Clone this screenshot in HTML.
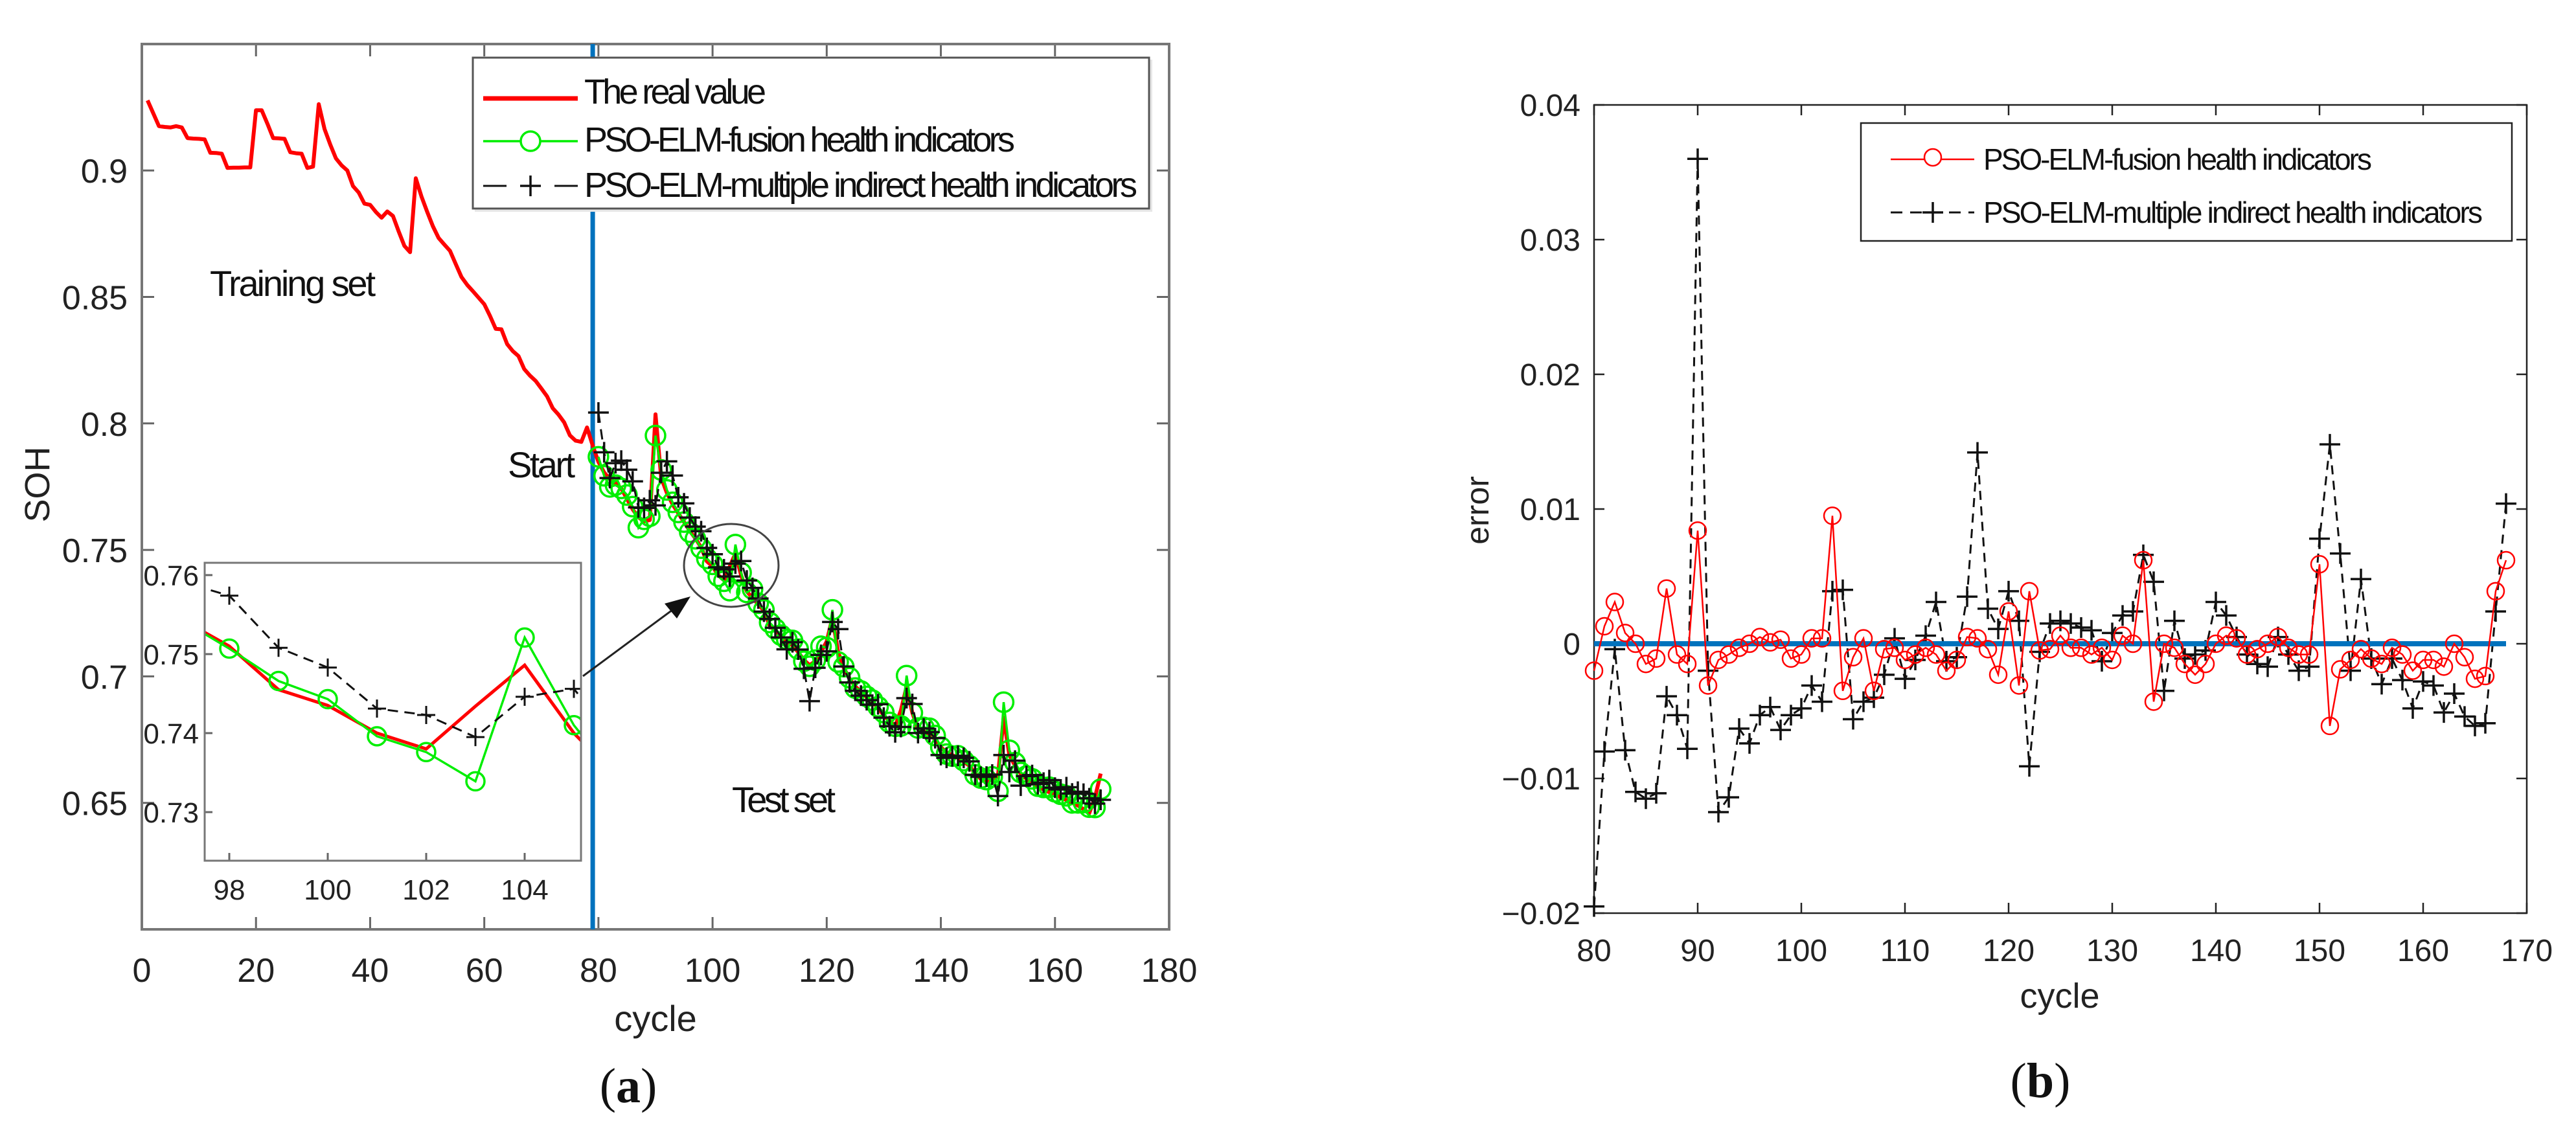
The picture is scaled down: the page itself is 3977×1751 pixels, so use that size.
<!DOCTYPE html>
<html><head><meta charset="utf-8"><style>
html,body{margin:0;padding:0;background:#fff;width:3977px;height:1751px;overflow:hidden;}
svg{display:block;font-family:"Liberation Sans",Arial,sans-serif;}
</style></head><body>
<svg id="fig" width="3977" height="1751" viewBox="0 0 3977 1751" xmlns="http://www.w3.org/2000/svg">
<defs>
<clipPath id="clipA"><rect x="219" y="68" width="1586" height="1367"/></clipPath>
<clipPath id="clipI"><rect x="316" y="869" width="581" height="460"/></clipPath>
</defs>
<g id="chartA"></g>
<g id="chartB"></g>
</svg>
<script>
// ---------- data ----------
const trainCycles = [1,2,3,4,5,6,7,8,9,10,11,12,13,14,15,16,17,18,19,20,21,22,23,24,25,26,27,28,29,30,31,32,33,34,35,36,37,38,39,40,41,42,43,44,45,46,47,48,49,50,51,52,53,54,55,56,57,58,59,60,61,62,63,64,65,66,67,68,69,70,71,72,73,74,75,76,77,78,79];
const trainReal = [.9277,.9226,.9175,.9172,.917,.9175,.917,.9128,.9126,.9125,.9123,.907,.9069,.9066,.901,.9011,.9011,.9012,.9012,.9238,.9238,.9185,.9128,.9127,.9125,.9072,.9068,.9066,.901,.9015,.9262,.9164,.9103,.9048,.902,.90,.8938,.8913,.8869,.8864,.8836,.8813,.8838,.882,.8759,.8702,.8677,.8969,.8897,.8836,.8779,.8733,.8707,.8682,.863,.8579,.8548,.8523,.8497,.8471,.8425,.8374,.8372,.8314,.8286,.8266,.8215,.8189,.8168,.8138,.8107,.806,.8035,.8004,.7953,.7932,.7927,.7984,.7912];
const testCycles = [80,81,82,83,84,85,86,87,88,89,90,91,92,93,94,95,96,97,98,99,100,101,102,103,104,105,106,107,108,109,110,111,112,113,114,115,116,117,118,119,120,121,122,123,124,125,126,127,128,129,130,131,132,133,134,135,136,137,138,139,140,141,142,143,144,145,146,147,148,149,150,151,152,153,154,155,156,157,158,159,160,161,162,163,164,165,166,167,168];
const testReal = [.7848,.7806,.778,.7764,.7743,.7702,.766,.7629,.7613,.7618,.8036,.7785,.7725,.768,.7645,.761,.7575,.7545,.751,.7455,.7435,.740,.738,.7434,.7486,.740,.7336,.731,.7285,.726,.7201,.718,.716,.7138,.7122,.7096,.7065,.7044,.706,.7096,.7138,.7232,.7096,.7033,.6991,.696,.6939,.6918,.6898,.6877,.6845,.6824,.6803,.6866,.696,.6856,.6793,.6783,.6772,.6751,.672,.6699,.6689,.6678,.6663,.6647,.6616,.6595,.6584,.6595,.6605,.6837,.6689,.6647,.6616,.6595,.658,.6563,.6553,.6542,.6532,.6522,.6511,.650,.649,.6475,.6459,.6521,.6616];
const errFusion = [-.002,.0013,.0031,.0008,0,-.0015,-.0011,.0041,-.0008,-.0015,.0084,-.0031,-.0012,-.0008,-.0003,0,.0005,.0001,.0003,-.0011,-.0008,.0004,.0004,.0095,-.0035,-.001,.0004,-.0035,-.0004,-.0003,-.0012,-.0008,-.0003,-.0008,-.002,-.0012,.0005,.0004,-.0004,-.0023,.0024,-.0031,.0039,-.0005,-.0004,.0006,-.0003,-.0003,-.0008,-.0003,-.0012,.0006,0,.0062,-.0043,0,-.0003,-.0015,-.0023,-.0015,0,.0006,.0004,-.0008,-.0004,0,.0005,-.0003,-.0008,-.0008,.0059,-.0061,-.0019,-.0012,-.0004,-.0011,-.0015,-.0003,-.0008,-.002,-.0012,-.0012,-.0017,0,-.001,-.0026,-.0024,.0039,.0062];
const errMultiple = [-.0195,-.008,-.0004,-.0079,-.011,-.0115,-.0111,-.0039,-.0053,-.0078,.036,-.002,-.0125,-.0114,-.0063,-.0074,-.0053,-.0047,-.0064,-.0053,-.0048,-.0031,-.0043,.0039,.004,-.0056,-.0043,-.004,-.0023,.0004,-.0026,-.0012,.0006,.0031,-.0013,-.001,.0035,.0142,.0026,.0011,.0039,.0017,-.0091,-.0006,.0015,.0017,.0015,.0012,.001,-.0013,.0008,.0021,.0024,.0066,.0046,-.0035,.0017,-.0011,-.0008,-.0005,.0031,.0021,.0005,-.0008,-.0015,-.0017,.0005,-.0008,-.002,-.0017,.0078,.0148,.0067,-.002,.0048,-.0011,-.003,-.0011,-.0027,-.0048,-.0028,-.0031,-.0051,-.0037,-.0054,-.0061,-.0059,.0024,.0104];
const xTicksA = [0,20,40,60,80,100,120,140,160,180];
const yTicksA = [0.65,0.7,0.75,0.8,0.85,0.9];
const yTickLabelsA = ["0.65","0.7","0.75","0.8","0.85","0.9"];
const xTicksI = [98,100,102,104];
const yTicksI = [0.73,0.74,0.75,0.76];
const xTicksB = [80,90,100,110,120,130,140,150,160,170];
const yTicksB = [-0.02,-0.01,0,0.01,0.02,0.03,0.04];
const yTickLabelsB = ["\u22120.02","\u22120.01","0","0.01","0.02","0.03","0.04"];
const startCycle = 79;

// ---------- scales ----------
const XA = c => 219 + c*(1586/180);
const YA = v => 1435 - (v-0.6)*3906;
const XI = c => 354 + (c-98)*76;
const YI = v => 1254 - (v-0.73)*12200;
const XB = c => 2461 + (c-80)*16.0;
const YB = e => 994 - e*20800;

const NS = "http://www.w3.org/2000/svg";
function mk(tag, attrs, parent){const e=document.createElementNS(NS,tag);for(const k in attrs)e.setAttribute(k,attrs[k]);parent.appendChild(e);return e;}
function txt(s, attrs, parent){const e=mk("text",attrs,parent);e.textContent=s;return e;}
function pathD(xs, ys, fx, fy){return xs.map((c,i)=>(i?"L":"M")+fx(c).toFixed(1)+","+fy(ys[i]).toFixed(1)).join(" ");}
function plus(g, x, y, h, w){const p=mk("path",{d:`M${x-h},${y} H${x+h} M${x},${y-h} V${y+h}`,stroke:"#111","stroke-width":w,fill:"none"},g);return p;}

const predFusion = testReal.map((v,i)=>v-errFusion[i]);
const predMultiple = testReal.map((v,i)=>v-errMultiple[i]);
const allCycles = trainCycles.concat(testCycles);
const allReal = trainReal.concat(testReal);

// ================= Chart A =================
const A = document.getElementById("chartA");
let el;
el = mk("g",{},A);


const axA = el;
xTicksA.forEach(c=>{
  const t=mk("path",{d:`M${XA(c)},1435 v-19 M${XA(c)},68 v19`,stroke:"#666","stroke-width":3},axA);
  
  
  const l=txt(String(c),{x:XA(c),y:1516,"font-size":52,"text-anchor":"middle",fill:"#222"},axA);
  
  
});
yTicksA.forEach((v,i)=>{
  const t=mk("path",{d:`M219,${YA(v)} h19 M1805,${YA(v)} h-19`,stroke:"#666","stroke-width":3},axA);
  
  
  const l=txt(yTickLabelsA[i],{x:197,y:YA(v)+19,"font-size":52,"text-anchor":"end",fill:"#222"},axA);
  
  
});
el = mk("rect",{x:219,y:68,width:1586,height:1367,fill:"none",stroke:"#777","stroke-width":4},A);



const dA = mk("g",{"clip-path":"url(#clipA)"},A);


el = mk("line",{x1:XA(startCycle),x2:XA(startCycle),y1:68,y2:1435,stroke:"#0072BD","stroke-width":7},dA);


el = mk("path",{d:pathD(allCycles,allReal,XA,YA),stroke:"#ff0000","stroke-width":6,fill:"none","stroke-linejoin":"round"},dA);


el = mk("path",{d:pathD(testCycles,predFusion,XA,YA),stroke:"#00ee00","stroke-width":3.5,fill:"none"},dA);


testCycles.forEach((c,i)=>{
  const m=mk("circle",{cx:XA(c),cy:YA(predFusion[i]),r:15,fill:"none",stroke:"#00ee00","stroke-width":3.5},dA);
  
  
});
el = mk("path",{d:pathD(testCycles,predMultiple,XA,YA),stroke:"#111","stroke-width":3,fill:"none","stroke-dasharray":"16 10"},dA);


testCycles.forEach((c,i)=>{
  const m=plus(dA,XA(c),YA(predMultiple[i]),16,3.5);
  
  
});

el = txt("Training set",{x:324,y:457,"font-size":56,fill:"#111",textLength:256},A);


el = txt("Start",{x:784,y:737,"font-size":56,fill:"#111",textLength:104},A);


el = txt("Test set",{x:1130,y:1254,"font-size":56,fill:"#111",textLength:160},A);


el = mk("ellipse",{cx:1129,cy:873,rx:73,ry:64,fill:"none",stroke:"#444","stroke-width":3},A);


el = mk("line",{x1:900,y1:1044,x2:1050,y2:933,stroke:"#222","stroke-width":3},A);


el = mk("path",{d:"M1066,921 L1026,932 L1045,955 z",fill:"#111"},A);



// inset
const I = mk("g",{},A);


el = mk("rect",{x:316,y:869,width:581,height:460,fill:"#fff",stroke:"none"},I);


xTicksI.forEach(c=>{
  const t=mk("path",{d:`M${XI(c)},1329 v-12`,stroke:"#666","stroke-width":3},I);
  
  
  const l=txt(String(c),{x:XI(c),y:1389,"font-size":44,"text-anchor":"middle",fill:"#222"},I);
  
  
});
yTicksI.forEach(v=>{
  const t=mk("path",{d:`M316,${YI(v)} h12`,stroke:"#666","stroke-width":3},I);
  
  
  const l=txt(v.toFixed(2),{x:307,y:YI(v)+16,"font-size":44,"text-anchor":"end",fill:"#222"},I);
  
  
});
const dI = mk("g",{"clip-path":"url(#clipI)"},I);


el = mk("path",{d:pathD(testCycles,testReal,XI,YI),stroke:"#ff0000","stroke-width":5,fill:"none"},dI);


el = mk("path",{d:pathD(testCycles,predFusion,XI,YI),stroke:"#00ee00","stroke-width":3.5,fill:"none"},dI);


testCycles.forEach((c,i)=>{
  if(c<97||c>106)return;
  const m=mk("circle",{cx:XI(c),cy:YI(predFusion[i]),r:14,fill:"none",stroke:"#00ee00","stroke-width":3.5},dI);
  
  
});
el = mk("path",{d:pathD(testCycles,predMultiple,XI,YI),stroke:"#111","stroke-width":3,fill:"none","stroke-dasharray":"16 10"},dI);


testCycles.forEach((c,i)=>{
  if(c<97||c>106)return;
  const m=plus(dI,XI(c),YI(predMultiple[i]),14,3);
  
  
});
el = mk("rect",{x:316,y:869,width:581,height:460,fill:"none",stroke:"#777","stroke-width":3},I);



// legend A
const LA = mk("g",{},A);


el = mk("rect",{x:733,y:92,width:1046,height:235,fill:"#e6e6e6"},LA);


el = mk("rect",{x:730,y:89,width:1044,height:233,fill:"#fff",stroke:"#555","stroke-width":3},LA);


el = mk("line",{x1:746,x2:892,y1:152,y2:152,stroke:"#ff0000","stroke-width":7},LA);


el = txt("The real value",{x:902,y:160,"font-size":54,fill:"#111",textLength:281},LA);


el = mk("line",{x1:746,x2:892,y1:218,y2:218,stroke:"#00ee00","stroke-width":3.5},LA);


el = mk("circle",{cx:819,cy:218,r:15,fill:"#fff",stroke:"#00ee00","stroke-width":3.5},LA);


el = txt("PSO-ELM-fusion health indicators",{x:902,y:234,"font-size":54,fill:"#111",textLength:665},LA);


el = mk("path",{d:"M746,287 H782 M856,287 H892",stroke:"#111","stroke-width":3},LA);


el = plus(LA,819,287,16,3.5);


el = txt("PSO-ELM-multiple indirect health indicators",{x:902,y:304,"font-size":54,fill:"#111",textLength:854},LA);



el = txt("cycle",{x:1012,y:1592,"font-size":56,"text-anchor":"middle",fill:"#222"},A);


el = txt("SOH",{x:0,y:0,"font-size":54,"text-anchor":"middle",fill:"#222",transform:"translate(76,748) rotate(-90)"},A);


el = txt("",{x:970,y:1702,"font-size":76,"text-anchor":"middle",fill:"#111","font-family":"Liberation Serif, serif"},A);


el.innerHTML='(<tspan font-weight="bold">a</tspan>)';

// ================= Chart B =================
const B = document.getElementById("chartB");
const axB = mk("g",{},B);


xTicksB.forEach(c=>{
  const t=mk("path",{d:`M${XB(c)},1410 v-16 M${XB(c)},162 v16`,stroke:"#222","stroke-width":2.5},axB);
  
  
  const l=txt(String(c),{x:XB(c),y:1484,"font-size":48,"text-anchor":"middle",fill:"#222"},axB);
  
  
});
yTicksB.forEach((v,i)=>{
  const t=mk("path",{d:`M2461,${YB(v)} h16 M3901,${YB(v)} h-16`,stroke:"#222","stroke-width":2.5},axB);
  
  
  const l=txt(yTickLabelsB[i],{x:2440,y:YB(v)+17,"font-size":48,"text-anchor":"end",fill:"#222"},axB);
  
  
});
el = mk("rect",{x:2461,y:162,width:1440,height:1248,fill:"none",stroke:"#222","stroke-width":2.5},B);


el = mk("path",{d:pathD(testCycles,errMultiple,XB,YB),stroke:"#111","stroke-width":3,fill:"none","stroke-dasharray":"14 10"},B);


testCycles.forEach((c,i)=>{
  const m=plus(B,XB(c),YB(errMultiple[i]),16,3.5);
  
  
});
el = mk("line",{x1:XB(testCycles[0]),x2:XB(testCycles[testCycles.length-1]),y1:YB(0),y2:YB(0),stroke:"#0072BD","stroke-width":8},B);


el = mk("path",{d:pathD(testCycles,errFusion,XB,YB),stroke:"#ff0000","stroke-width":2.5,fill:"none"},B);


testCycles.forEach((c,i)=>{
  const m=mk("circle",{cx:XB(c),cy:YB(errFusion[i]),r:13,fill:"none",stroke:"#ff0000","stroke-width":2.5},B);
  
  
});
const LB = mk("g",{},B);


el = mk("rect",{x:2873,y:190,width:1005,height:182,fill:"#fff",stroke:"#222","stroke-width":2.5},LB);


el = mk("line",{x1:2919,x2:3048,y1:246,y2:246,stroke:"#ff0000","stroke-width":2.5},LB);


el = mk("circle",{cx:2984,cy:243,r:13,fill:"#fff",stroke:"#ff0000","stroke-width":2.5},LB);


el = txt("PSO-ELM-fusion health indicators",{x:3062,y:262,"font-size":46,fill:"#111",textLength:600},LB);


el = mk("line",{x1:2919,x2:3048,y1:328,y2:328,stroke:"#111","stroke-width":3,"stroke-dasharray":"18 12"},LB);


el = plus(LB,2984,328,16,3.5);


el = txt("PSO-ELM-multiple indirect health indicators",{x:3062,y:344,"font-size":46,fill:"#111",textLength:771},LB);



el = txt("cycle",{x:3180,y:1556,"font-size":54,"text-anchor":"middle",fill:"#222"},B);


el = txt("error",{x:0,y:0,"font-size":50,"text-anchor":"middle",fill:"#222",transform:"translate(2298,788) rotate(-90)"},B);


el = txt("",{x:3150,y:1694,"font-size":76,"text-anchor":"middle",fill:"#111","font-family":"Liberation Serif, serif"},B);


el.innerHTML='(<tspan font-weight="bold">b</tspan>)';
</script>
</body></html>
